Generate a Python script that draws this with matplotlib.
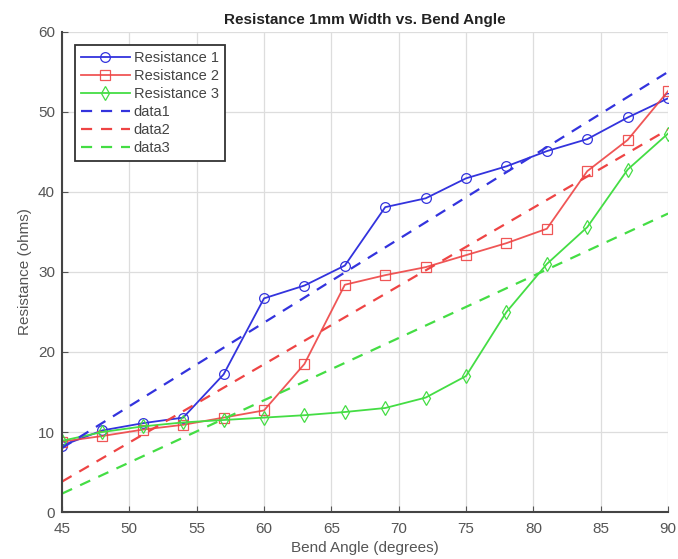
import numpy as np
import matplotlib
matplotlib.use("Agg")
import matplotlib.pyplot as plt

plt.rcParams['font.family'] = ['Liberation Sans', 'DejaVu Sans']

# bend angles (degrees)
angle = [45, 48, 51, 54, 57, 60, 63, 66, 69, 72, 75, 78, 81, 84, 87, 90]
res1 = [8.3, 10.2, 11.1, 11.8, 17.2, 26.7, 28.3, 30.8, 38.1, 39.2, 41.7, 43.2, 45.1, 46.6, 49.3, 51.7]
res2 = [8.8, 9.5, 10.3, 10.9, 11.8, 12.7, 18.5, 28.4, 29.6, 30.6, 32.1, 33.6, 35.4, 42.6, 46.5, 52.6]
res3 = [8.9, 10.0, 10.7, 11.2, 11.5, 11.8, 12.1, 12.5, 13.0, 14.3, 17.0, 25.0, 31.0, 35.6, 42.8, 47.3]

# fitted lines (end points)
fit_x = [45, 90]
fit1 = [8.0, 55.0]
fit2 = [3.8, 47.8]
fit3 = [2.3, 37.3]

blue = '#3333dd'
red = '#ee4444'
green = '#44dd44'

fig = plt.figure(figsize=(6.78, 5.59), dpi=100)
ax = fig.add_axes([0.0914, 0.084, 0.894, 0.859])

ax.plot(angle, res1, '-o', color=blue, lw=1.3, ms=7, mfc='none', mew=0.9, label='Resistance 1')
ax.plot(angle, res2, '-s', color=red, lw=1.3, ms=6.5, mfc='none', mew=0.9, alpha=0.9, label='Resistance 2')
ax.plot(angle, res3, '-d', color=green, lw=1.3, ms=7, mfc='none', mew=0.9, label='Resistance 3')
ax.plot(fit_x, fit1, '--', color=blue, lw=1.6, dashes=(5, 4), label='data1')
ax.plot(fit_x, fit2, '--', color=red, lw=1.6, dashes=(5, 4), label='data2')
ax.plot(fit_x, fit3, '--', color=green, lw=1.6, dashes=(5, 4), label='data3')

ax.set_xlim(45, 90)
ax.set_ylim(0, 60)
ax.set_xticks(np.arange(45, 91, 5))
ax.set_yticks(np.arange(0, 61, 10))
ax.grid(True, color='#dddddd', lw=0.9)
ax.set_axisbelow(True)
for s in ['top', 'right']:
	ax.spines[s].set_visible(False)
for s in ['left', 'bottom']:
	ax.spines[s].set_color('#444444')
	ax.spines[s].set_linewidth(1.5)
ax.tick_params(direction='in', length=4, colors='#555555', labelsize=11, labelcolor='#555555')
ax.tick_params(axis='x', pad=7)
ax.tick_params(axis='y', pad=5)

ax.set_title('Resistance 1mm Width vs. Bend Angle', fontsize=11, fontweight='bold', pad=6, color='#222222')
ax.set_xlabel('Bend Angle (degrees)', fontsize=11, color='#555555', labelpad=4)
ax.set_ylabel('Resistance (ohms)', fontsize=11, color='#555555', labelpad=4)

leg = ax.legend(loc='upper left', bbox_to_anchor=(0.021, 0.972), fontsize=10.5, handlelength=3.4,
	handletextpad=0.25, labelspacing=0.27, borderpad=0.4, fancybox=False, framealpha=1, borderaxespad=0.0)
leg.get_frame().set_edgecolor('#333333')
leg.get_frame().set_linewidth(1.3)
for t in leg.get_texts():
	t.set_color('#444444')

fig.savefig('out.png', dpi=100)
